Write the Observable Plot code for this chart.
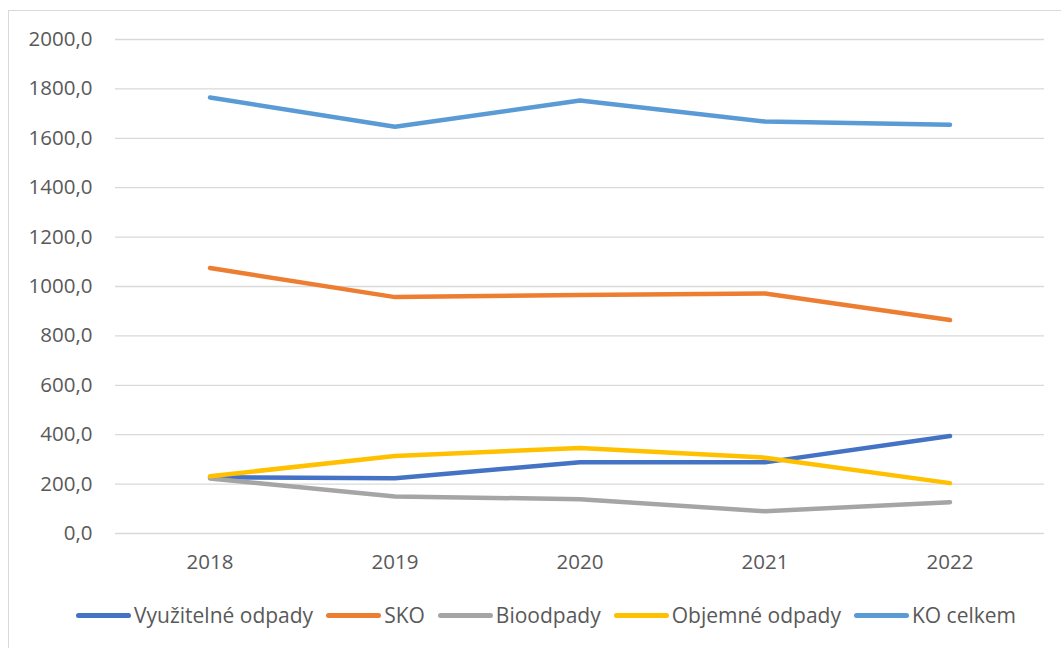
<!DOCTYPE html>
<html>
<head>
<meta charset="utf-8">
<script src="https://cdn.jsdelivr.net/npm/d3@7"></script>
<script src="https://cdn.jsdelivr.net/npm/@observablehq/plot@0.6"></script>
<style>
  html, body { margin: 0; padding: 0; background: #fff; }
  body { width: 1061px; height: 648px; position: relative; overflow: hidden; font-family: "Open Sans", sans-serif; }
  #frame { position: absolute; left: 8px; top: 10px; width: 1100px; height: 700px; border: 1px solid #d9d9d9; box-sizing: border-box; }
  #chart { position: absolute; left: 0; top: 0; }
  #legend { position: absolute; left: 76px; top: 601px; display: flex; align-items: center; font-size: 21px; color: #595959; white-space: nowrap; }
  .item { display: flex; align-items: center; margin-right: 13px; }
  .sw { width: 55px; height: 5px; border-radius: 3px; margin-right: 3px; }
</style>
</head>
<body>
<div id="frame"></div>
<div id="chart"></div>
<div id="legend"></div>
<script>
const years = ["2018", "2019", "2020", "2021", "2022"];
const seriesNames = ["Využitelné odpady", "SKO", "Bioodpady", "Objemné odpady", "KO celkem"];
const colors = ["#4472C4", "#ED7D31", "#A5A5A5", "#FFC000", "#5B9BD5"];
const vyuzitelne = [228, 224, 288, 288, 395];
const sko = [1075, 957, 966, 972, 864];
const bioodpady = [223, 150, 139, 90, 127];
const objemne = [232, 314, 346, 307, 204];
const koCelkem = [1765, 1647, 1753, 1668, 1655];
const yTicks = [0, 200, 400, 600, 800, 1000, 1200, 1400, 1600, 1800, 2000];

const allValues = [vyuzitelne, sko, bioodpady, objemne, koCelkem];
const data = [];
seriesNames.forEach((s, i) => years.forEach((y, j) => data.push({series: s, year: y, value: allValues[i][j]})));

const fmt = v => d3.format(".1f")(v).replace(".", ",");

const chart = Plot.plot({
  width: 1061,
  height: 590,
  marginLeft: 115,
  marginRight: 17,
  marginTop: 39,
  marginBottom: 57,
  style: {fontFamily: "Open Sans, sans-serif", fontSize: "20.5px", color: "#595959", background: "transparent"},
  x: {type: "band", domain: years, padding: 0, label: null, tickSize: 0, tickPadding: 21},
  y: {domain: [0, 2000], ticks: yTicks, tickFormat: fmt, label: null, tickSize: 0, tickPadding: 23},
  color: {domain: seriesNames, range: colors},
  marks: [
    Plot.ruleY(yTicks, {stroke: "#d9d9d9", strokeWidth: 1.3, strokeOpacity: 1}),
    Plot.line(data, {x: "year", y: "value", z: "series", stroke: "series", strokeWidth: 4.5, strokeLinecap: "round", strokeLinejoin: "round"})
  ]
});
document.getElementById("chart").appendChild(chart);

const legend = document.getElementById("legend");
seriesNames.forEach((s, i) => {
  const it = document.createElement("div");
  it.className = "item";
  const sw = document.createElement("div");
  sw.className = "sw";
  sw.style.background = colors[i];
  const t = document.createElement("span");
  t.textContent = s;
  it.appendChild(sw);
  it.appendChild(t);
  legend.appendChild(it);
});
</script>
</body>
</html>
